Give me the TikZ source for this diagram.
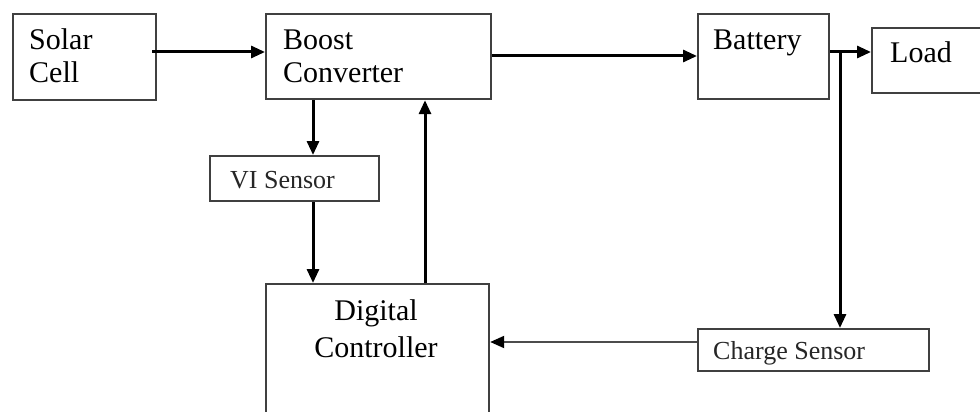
\documentclass[tikz,border=0pt]{standalone}
\usepackage{fontspec}
\setmainfont{Liberation Serif}
\usetikzlibrary{arrows.meta}
\begin{document}
\begin{tikzpicture}[x=1pt,y=-1pt,
  box/.style={draw=black!75,line width=2.2pt,fill=none,inner sep=0pt,anchor=north west},
  big/.style={inner sep=0pt,anchor=base west,font=\fontsize{30}{34}\selectfont},
  small/.style={inner sep=0pt,anchor=base west,text=black!85,font=\fontsize{26}{30}\selectfont},
  arr/.style={line width=3pt,-{Triangle[length=14pt,width=12pt]}},
  thinarr/.style={draw=black!70,line width=2pt,-{Triangle[length=14pt,width=12pt,fill=black,color=black]}},
  ln/.style={line width=3pt}]
\clip (0,0) rectangle (980,412);
\fill[white] (0,0) rectangle (980,412);
% boxes
\node[box,minimum width=143pt,minimum height=86pt] (solar) at (12,13) {};
\node[box,minimum width=225pt,minimum height=85pt] (boost) at (265,13) {};
\node[box,minimum width=131pt,minimum height=85pt] (batt) at (697,13) {};
\node[box,minimum width=130pt,minimum height=65pt] (load) at (871,27) {};
\node[box,minimum width=169pt,minimum height=45pt] (vi) at (209,155) {};
\node[box,minimum width=223pt,minimum height=150pt] (dig) at (265,283) {};
\node[box,minimum width=231pt,minimum height=42pt] (chg) at (697,328) {};
% texts
\node[big] (t1) at (29,50) {Solar};
\node[big] (t2) at (29,83) {Cell};
\node[big] (t3) at (283,50) {Boost};
\node[big] (t4) at (283,83) {Converter};
\node[big] (t5) at (713,50) {Battery};
\node[big] (t6) at (890,63) {Load};
\node[small] (t7) at (230,188) {VI Sensor};
\node[big,anchor=base] (t8) at (376,320) {Digital};
\node[big,anchor=base] (t9) at (376,357) {Controller};
\node[small] (t10) at (713,359) {Charge Sensor};
% connectors
\coordinate (split) at (840,52);
\draw[arr] ([xshift=-5pt]solar.east |- 0,52) -- (boost.west |- 0,52);
\draw[arr] (boost.east |- 0,56) -- (batt.west |- 0,56);
\draw[ln] (batt.east |- 0,52) -- (split);
\draw[arr] (split) -- (load.west |- split);
\draw[arr] (split) -- (chg.north -| split);
\draw[arr] (boost.south -| 313,0) -- (vi.north -| 313,0);
\draw[arr] (vi.south -| 313,0) -- (dig.north -| 313,0);
\draw[arr] (dig.north -| 425,0) -- (boost.south -| 425,0);
\draw[thinarr] (chg.west |- 0,342) -- (dig.east |- 0,342);
\end{tikzpicture}
\end{document}
